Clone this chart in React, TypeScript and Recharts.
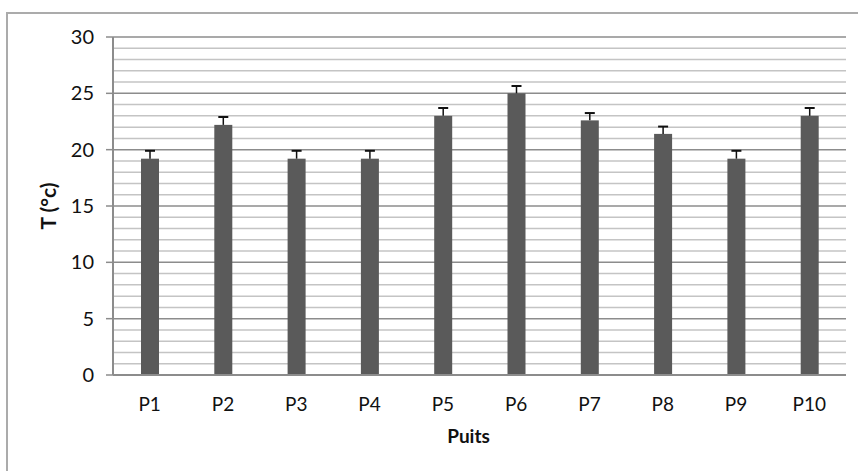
import { BarChart, Bar, XAxis, YAxis, CartesianGrid, Label } from 'recharts';

const wells = ['P1', 'P2', 'P3', 'P4', 'P5', 'P6', 'P7', 'P8', 'P9', 'P10'];
const temps = [19.2, 22.2, 19.2, 19.2, 23.0, 25.0, 22.6, 21.4, 19.2, 23.0];
const errs = [0.7, 0.7, 0.7, 0.7, 0.7, 0.65, 0.65, 0.65, 0.7, 0.7];
const yTicks = [
  0, 1, 2, 3, 4, 5, 6, 7, 8, 9, 10, 11, 12, 13, 14, 15, 16, 17, 18, 19, 20,
  21, 22, 23, 24, 25, 26, 27, 28, 29, 30,
];
const majorStep = 5;

const data = wells.map((w, i) => ({ name: w, t: temps[i], err: errs[i] }));

const FONT = 'Lato, "Liberation Sans", sans-serif';
const TICK_SIZE = 7;
const TICK_MARGIN = 12;

// bar with a plus-only error bar on top (Excel style)
function BarWithErr(props: any) {
  const { x, y, width, height, value, payload } = props;
  const pxPerUnit = value ? height / value : 0;
  const top = y - payload.err * pxPerUnit;
  const cx = x + width / 2;
  return (
    <g>
      <rect x={x} y={y} width={width} height={height} fill="#5a5a5a" />
      <line x1={cx} y1={y} x2={cx} y2={top} stroke="#111" strokeWidth={1.5} />
      <line x1={cx - 5} y1={top} x2={cx + 5} y2={top} stroke="#111" strokeWidth={2} />
    </g>
  );
}

// label + tick mark only on major values
function YTick(props: any) {
  const { x, y, payload } = props;
  if (payload.value % majorStep !== 0) return <g />;
  return (
    <g>
      <line
        x1={x + TICK_MARGIN}
        y1={y}
        x2={x + TICK_MARGIN + TICK_SIZE}
        y2={y}
        stroke="#8c8c8c"
        strokeWidth={1.5}
      />
      <text x={x} y={y} dy="0.35em" textAnchor="end" fill="#111" fontSize={20} fontFamily={FONT}>
        {payload.value}
      </text>
    </g>
  );
}

function GridLine(p: any) {
  const major = p.index % majorStep === 0;
  return (
    <line
      x1={p.x1}
      y1={p.y1}
      x2={p.x2}
      y2={p.y2}
      stroke={major ? '#8c8c8c' : '#c4c4c4'}
      strokeWidth={1.5}
    />
  );
}

export default function App() {
  return (
    <div style={{ position: 'absolute', left: 0, top: 0, width: 858, height: 471, overflow: 'hidden', background: '#fff' }}>
      <div
        style={{
          position: 'absolute',
          left: 6,
          top: 12,
          width: 900,
          height: 500,
          borderTop: '2px solid #ababab',
          borderLeft: '2px solid #ababab',
        }}
      />
      <div style={{ position: 'absolute', left: 0, top: 0 }}>
        <BarChart width={858} height={471} data={data} margin={{ top: 37, right: 12, bottom: 28, left: 0 }}>
          <CartesianGrid vertical={false} horizontal={<GridLine />} />
          <XAxis
            dataKey="name"
            tickLine={false}
            tickSize={0}
            tickMargin={23}
            height={68}
            axisLine={{ stroke: '#8c8c8c', strokeWidth: 2 }}
            tick={{ fill: '#111', fontSize: 19, fontFamily: FONT }}
          >
            <Label
              value="Puits"
              position="insideBottom"
              offset={0}
              dx={-11}
              style={{ fill: '#111', fontSize: 19, fontWeight: 700, fontFamily: FONT }}
            />
          </XAxis>
          <YAxis
            width={113}
            domain={[0, 30]}
            ticks={yTicks}
            interval={0}
            tickSize={TICK_SIZE}
            tickMargin={TICK_MARGIN}
            tickLine={false}
            axisLine={{ stroke: '#8c8c8c', strokeWidth: 2 }}
            tick={<YTick />}
          >
            <Label
              value="T (°c)"
              angle={-90}
              position="center"
              dx={-8}
              style={{ fill: '#111', fontSize: 21, fontWeight: 700, fontFamily: FONT, textAnchor: 'middle' }}
            />
          </YAxis>
          <Bar dataKey="t" barSize={18} shape={<BarWithErr />} isAnimationActive={false} />
        </BarChart>
      </div>
    </div>
  );
}
